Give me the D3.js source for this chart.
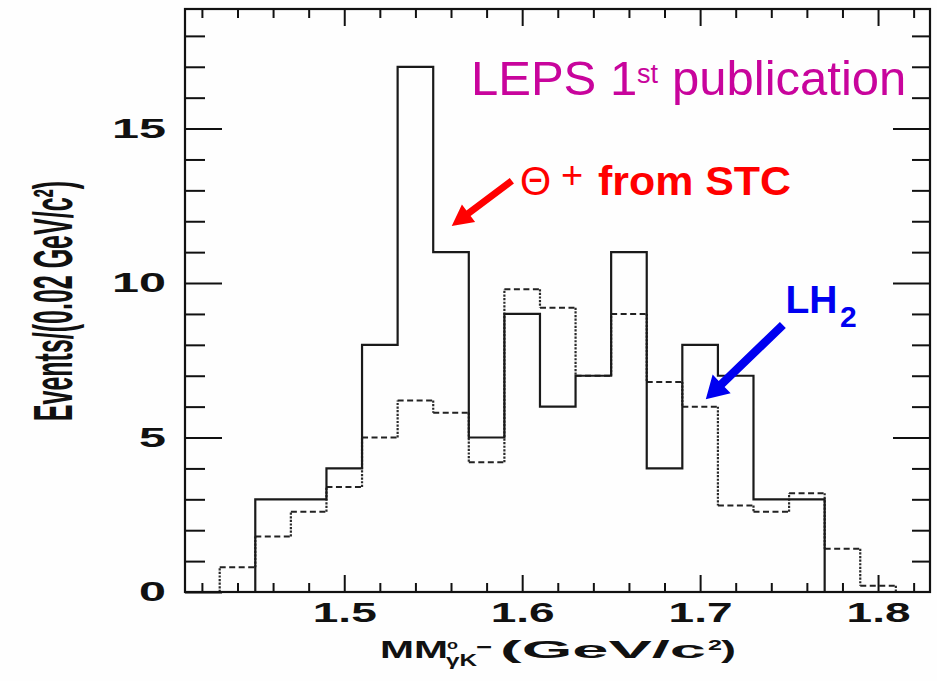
<!DOCTYPE html>
<html>
<head>
<meta charset="utf-8">
<script src="https://cdn.jsdelivr.net/npm/d3@7"></script>
<style>
  body { margin: 0; background: #fff; }
  svg { display: block; }
</style>
</head>
<body>
<svg id="chart" width="937" height="681"></svg>
<script>
// Missing-mass histogram, 0.02 GeV/c^2 bins (lower bin edges)
const binLow = [1.43, 1.45, 1.47, 1.49, 1.51, 1.53, 1.55, 1.57, 1.59, 1.61,
                1.63, 1.65, 1.67, 1.69, 1.71, 1.73, 1.75, 1.77, 1.79];
const binWidth = 0.02;
// Signal sample (solid histogram)
const stcCounts = [0, 3, 3, 4, 8, 17, 11, 5, 9, 6, 7, 11, 4, 8, 7, 3, 3, 0, 0];
// LH2 sample, normalised (dashed histogram)
const lh2Counts = [0.8, 1.8, 2.6, 3.4, 5.0, 6.2, 5.8, 4.2, 9.8, 9.2, 7.0, 9.0,
                   6.8, 6.0, 2.8, 2.6, 3.2, 1.4, 0.2];
const xMajorTicks = [1.5, 1.6, 1.7, 1.8];
const yMajorTicks = [0, 5, 10, 15];

const FONT = "'Liberation Sans', Arial, Helvetica, sans-serif";
const INK = "#111";

const svg = d3.select("#chart");
svg.append("rect").attr("width", 937).attr("height", 681).attr("fill", "#fefefe");

const x = d3.scaleLinear().domain([1.4105, 1.8292]).range([185, 930]);
const y = d3.scaleLinear().domain([0, 18.87]).range([592, 9]);

// ---- histograms ----
function stepPoints(counts) {
  const nz = counts.map((v, i) => v > 0 ? i : -1).filter(i => i >= 0);
  const first = nz[0], last = nz[nz.length - 1];
  const pts = [[binLow[first], 0]];
  for (let i = first; i <= last; i++) {
    pts.push([binLow[i], counts[i]], [binLow[i] + binWidth, counts[i]]);
  }
  pts.push([binLow[last] + binWidth, 0]);
  return pts;
}
const line = d3.line().x(d => x(d[0])).y(d => y(d[1]));

// dashed histogram: horizontal runs dashed, vertical risers dotted
const lhFirst = lh2Counts.findIndex(v => v > 0);
let lhLast = lh2Counts.length - 1;
while (lh2Counts[lhLast] <= 0) lhLast--;
const horiz = [], vert = [];
for (let i = lhFirst; i <= lhLast; i++) {
  const lo = binLow[i], hi = binLow[i] + binWidth;
  horiz.push(`M${x(lo)},${y(lh2Counts[i])}H${x(hi)}`);
  const prev = i === lhFirst ? 0 : lh2Counts[i - 1];
  vert.push(`M${x(lo)},${y(prev)}V${y(lh2Counts[i])}`);
}
vert.push(`M${x(binLow[lhLast] + binWidth)},${y(lh2Counts[lhLast])}V${y(0)}`);

svg.append("path").attr("d", horiz.join("")).attr("fill", "none")
  .attr("stroke", "#222").attr("stroke-width", 2).attr("stroke-dasharray", "6 3.5");
svg.append("path").attr("d", vert.join("")).attr("fill", "none")
  .attr("stroke", "#2a2a2a").attr("stroke-width", 2.2).attr("stroke-dasharray", "2.2 1.4");

svg.append("path").attr("d", line(stepPoints(stcCounts))).attr("fill", "none")
  .attr("stroke", "#1a1a1a").attr("stroke-width", 2.2).attr("stroke-linejoin", "miter");

// ---- axes: ticks on all four sides, pointing inward ----
const xMinor = d3.range(1.42, 1.83, 0.02).map(v => +v.toFixed(2))
  .filter(v => !xMajorTicks.includes(v));
const yMinor = d3.range(1, 19).filter(v => !yMajorTicks.includes(v));

function styleAxis(g) {
  g.select(".domain").remove();
  g.attr("font-family", FONT);
  g.selectAll(".tick line").attr("stroke", INK).attr("stroke-width", 2);
}

svg.append("g").attr("transform", `translate(0,${y(0)})`)
  .call(d3.axisBottom(x).tickValues(xMinor).tickSize(-9).tickFormat("")).call(styleAxis);
const xAxis = svg.append("g").attr("transform", `translate(0,${y(0)})`)
  .call(d3.axisBottom(x).tickValues(xMajorTicks).tickSize(-17).tickPadding(11)
    .tickFormat(d3.format(".1f")))
  .call(styleAxis);
xAxis.selectAll("text")
  .attr("font-size", 27).attr("font-weight", "bold").attr("fill", INK)
  .attr("textLength", 64).attr("lengthAdjust", "spacingAndGlyphs");

svg.append("g").attr("transform", `translate(0,${y.range()[1]})`)
  .call(d3.axisTop(x).tickValues(xMinor).tickSize(-9).tickFormat("")).call(styleAxis);
svg.append("g").attr("transform", `translate(0,${y.range()[1]})`)
  .call(d3.axisTop(x).tickValues(xMajorTicks).tickSize(-17).tickFormat("")).call(styleAxis);

svg.append("g").attr("transform", `translate(${x.range()[0]},0)`)
  .call(d3.axisLeft(y).tickValues(yMinor).tickSize(-20).tickFormat("")).call(styleAxis);
const yAxis = svg.append("g").attr("transform", `translate(${x.range()[0]},0)`)
  .call(d3.axisLeft(y).tickValues(yMajorTicks).tickSize(-37).tickPadding(19))
  .call(styleAxis);
yAxis.selectAll("text")
  .attr("font-size", 27).attr("font-weight", "bold").attr("fill", INK)
  .attr("textLength", d => String(d).length * 27).attr("lengthAdjust", "spacingAndGlyphs");

svg.append("g").attr("transform", `translate(${x.range()[1]},0)`)
  .call(d3.axisRight(y).tickValues(yMinor).tickSize(-18).tickFormat("")).call(styleAxis);
svg.append("g").attr("transform", `translate(${x.range()[1]},0)`)
  .call(d3.axisRight(y).tickValues(yMajorTicks.filter(v => v > 0)).tickSize(-37).tickFormat(""))
  .call(styleAxis);

// frame
svg.append("rect")
  .attr("x", x.range()[0]).attr("y", y.range()[1])
  .attr("width", x.range()[1] - x.range()[0]).attr("height", y.range()[0] - y.range()[1])
  .attr("fill", "none").attr("stroke", INK).attr("stroke-width", 2.2);

// ---- axis titles ----
const title = svg.append("g").attr("font-family", FONT).attr("font-weight", "bold").attr("fill", INK);
function stretched(g, str, px, py, size, len) {
  return g.append("text").attr("x", px).attr("y", py).attr("font-size", size)
    .attr("textLength", len).attr("lengthAdjust", "spacingAndGlyphs").text(str);
}
stretched(title, "MM", 380, 658, 23, 68);
stretched(title, "o", 447, 648.5, 13, 11);
stretched(title, "γK", 446, 666, 16, 31);
stretched(title, "−", 476, 654, 20, 16);
stretched(title, "(GeV/c", 500, 658, 23, 206);
stretched(title, "2", 708, 650, 14, 14);
stretched(title, ")", 721, 658, 23, 15);

// y title: condensed lettering, drawn rotated and widened across the line
title.append("text")
  .attr("transform", "translate(71.5,301) scale(2.2,1) rotate(-90)")
  .attr("text-anchor", "middle")
  .attr("font-size", 25)
  .text("Events/(0.02 GeV/c²)");

// ---- annotations ----
function arrow(g, from, to, color, shaft, headLen, headW) {
  const x0 = x(from[0]), y0 = y(from[1]), x1 = x(to[0]), y1 = y(to[1]);
  const dx = x1 - x0, dy = y1 - y0, L = Math.hypot(dx, dy);
  const ux = dx / L, uy = dy / L, px = -uy, py = ux;
  const bx = x1 - ux * headLen, by = y1 - uy * headLen;
  const p = [
    [x0 + px * shaft / 2, y0 + py * shaft / 2],
    [bx + px * shaft / 2, by + py * shaft / 2],
    [bx + px * headW / 2, by + py * headW / 2],
    [x1, y1],
    [bx - px * headW / 2, by - py * headW / 2],
    [bx - px * shaft / 2, by - py * shaft / 2],
    [x0 - px * shaft / 2, y0 - py * shaft / 2]
  ];
  g.append("path").attr("d", "M" + p.map(q => q.join(",")).join("L") + "Z").attr("fill", color);
}

const notes = svg.append("g").attr("font-family", FONT);

const MAGENTA = "#c8049c";
notes.append("text").attr("x", 471).attr("y", 95).attr("font-size", 49)
  .attr("fill", MAGENTA).text("LEPS 1");
notes.append("text").attr("x", 637).attr("y", 83).attr("font-size", 27)
  .attr("fill", MAGENTA).text("st");
notes.append("text").attr("x", 672).attr("y", 95).attr("font-size", 49)
  .attr("fill", MAGENTA).text("publication");

const RED = "#ff0000";
notes.append("text").attr("x", 520).attr("y", 195).attr("font-size", 40)
  .attr("fill", RED).text("Θ");
notes.append("text").attr("x", 561).attr("y", 188).attr("font-size", 38)
  .attr("fill", RED).text("+");
notes.append("text").attr("x", 598).attr("y", 195).attr("font-size", 40)
  .attr("font-weight", "bold").attr("fill", RED)
  .attr("textLength", 193).attr("lengthAdjust", "spacingAndGlyphs").text("from STC");
arrow(notes, [1.5942, 13.31], [1.5604, 11.85], RED, 7, 21, 22);

const BLUE = "#0000f0";
notes.append("text").attr("x", 785.5).attr("y", 313).attr("font-size", 39)
  .attr("font-weight", "bold").attr("fill", BLUE).text("LH");
notes.append("text").attr("x", 840).attr("y", 326.5).attr("font-size", 30)
  .attr("font-weight", "bold").attr("fill", BLUE).text("2");
arrow(notes, [1.7465, 8.64], [1.7032, 6.24], BLUE, 8.5, 22, 26);
</script>
</body>
</html>
